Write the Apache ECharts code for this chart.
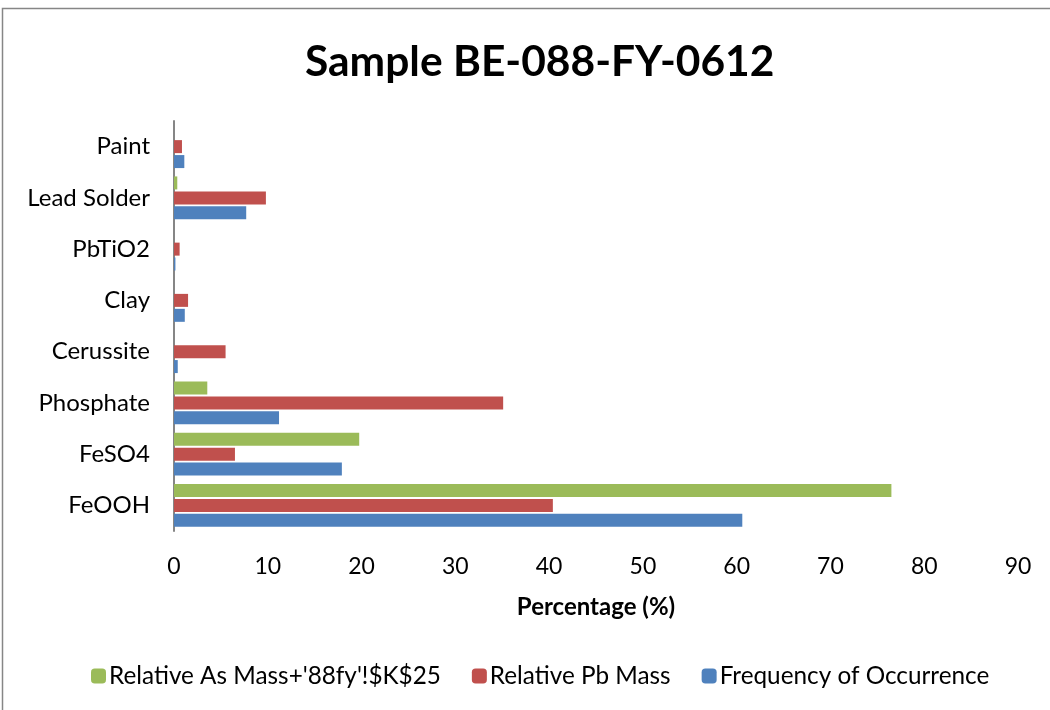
<!DOCTYPE html>
<html><head><meta charset="utf-8">
<script src="https://cdn.jsdelivr.net/npm/echarts@6/dist/echarts.min.js"></script>
<style>html,body{margin:0;padding:0;background:#fff}#c{width:1050px;height:710px}</style>
</head><body><div id="c"></div>
<script>
const categories = ["FeOOH","FeSO4","Phosphate","Cerussite","Clay","PbTiO2","Lead Solder","Paint"];
const freqOccurrence = [60.6, 17.9, 11.2, 0.4, 1.15, 0.15, 7.7, 1.1];
const relPbMass = [40.4, 6.5, 35.1, 5.5, 1.5, 0.6, 9.8, 0.85];
const relAsMass = [76.5, 19.75, 3.55, 0, 0, 0, 0.35, 0];
const xTicks = [0, 10, 20, 30, 40, 50, 60, 70, 80, 90];
const seriesNames = ["Frequency of Occurrence", "Relative Pb Mass", "Relative As Mass+'88fy'!$K$25"];

const font = "Lato, 'Open Sans', sans-serif";
const chart = echarts.init(document.getElementById('c'));
chart.setOption({
  animation: false,
  textStyle: { fontFamily: font },
  title: {
    text: "Sample BE-088-FY-0612", left: 300, top: 36,
    textStyle: { fontFamily: font, fontSize: 42.5, fontWeight: 'bold', color: '#000' }
  },
  graphic: [{ type: 'rect', shape: { x: 2.5, y: 8.5, width: 1100, height: 800 },
    style: { fill: 'none', stroke: '#868686', lineWidth: 1.5 }, silent: true }],
  legend: {
    bottom: 17, left: 86, itemWidth: 15, itemHeight: 15, itemGap: 31,
    data: [seriesNames[2], seriesNames[1], seriesNames[0]],
    textStyle: { fontFamily: font, fontSize: 24.3, color: '#000', padding: [0, 0, 0, -2] }
  },
  grid: { left: 174, right: 32, top: 121, bottom: 179, containLabel: false },
  xAxis: {
    type: 'value', min: xTicks[0], max: xTicks[xTicks.length - 1], interval: 10,
    name: 'Percentage (%)', nameLocation: 'middle', nameGap: 64,
    nameTextStyle: { fontFamily: font, fontSize: 24, fontWeight: 'bold', color: '#000' },
    axisLine: { show: false }, axisTick: { show: false }, splitLine: { show: false },
    axisLabel: { fontSize: 23, color: '#000', margin: 24, fontFamily: font }
  },
  yAxis: {
    type: 'category', data: categories,
    axisLine: { show: true, lineStyle: { color: '#868686', width: 2 } },
    axisTick: { show: false },
    axisLabel: { fontSize: 24, color: '#000', margin: 24, fontFamily: font }
  },
  series: [
    { name: seriesNames[2], type: 'bar', data: relAsMass, barWidth: 13, barGap: '15%',
      itemStyle: { color: '#9BBB59' } },
    { name: seriesNames[1], type: 'bar', data: relPbMass, barWidth: 13, barGap: '15%',
      itemStyle: { color: '#C0504D' } },
    { name: seriesNames[0], type: 'bar', data: freqOccurrence, barWidth: 13, barGap: '15%',
      itemStyle: { color: '#4F81BD' } }
  ]
});
</script></body></html>
